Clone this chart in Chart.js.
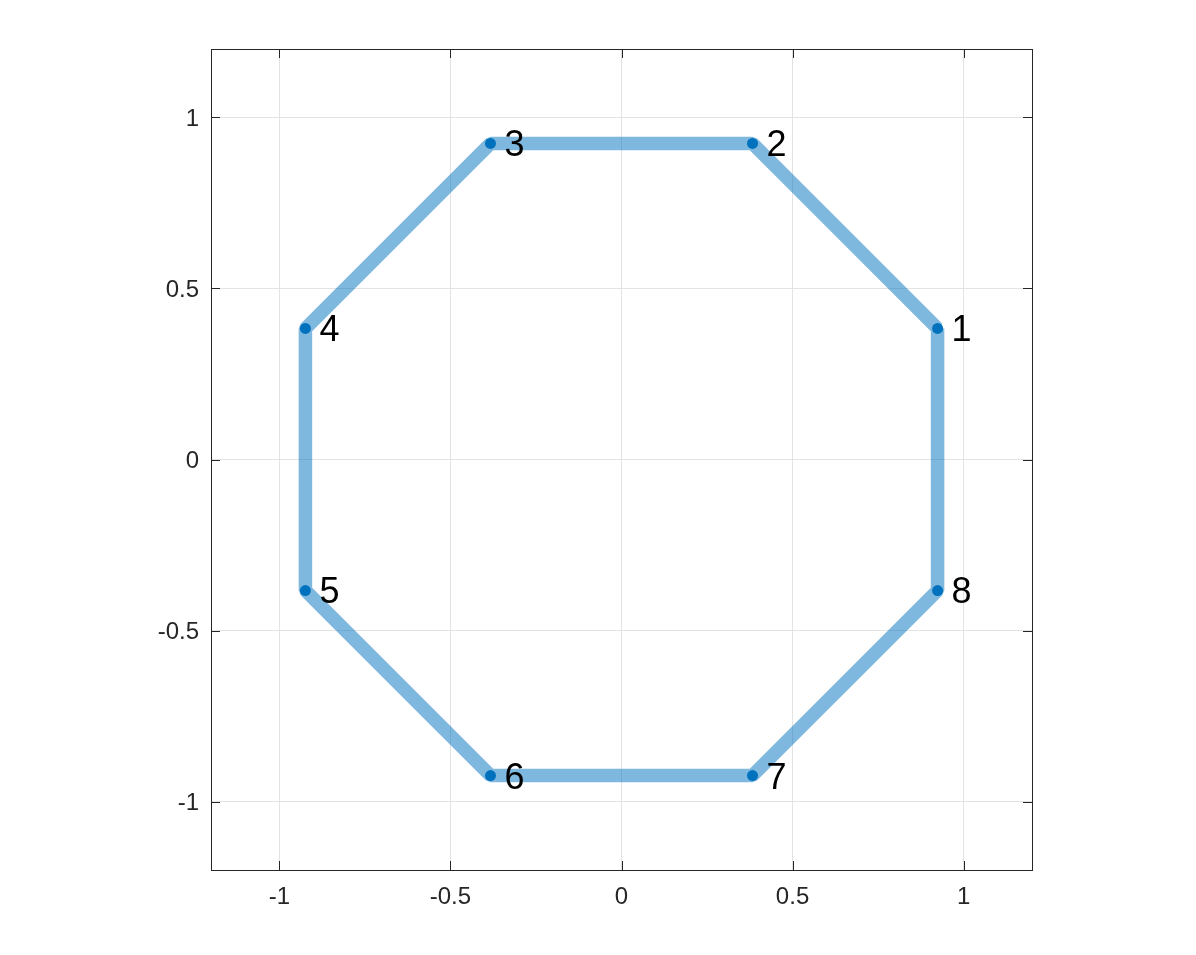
<!DOCTYPE html>
<html>
<head>
<meta charset="utf-8">
<script src="https://cdn.jsdelivr.net/npm/chart.js@4"></script>
<style>
  html, body { margin: 0; padding: 0; background: #ffffff; }
  canvas { display: block; }
</style>
</head>
<body>
<canvas id="c" width="1196" height="955"></canvas>
<script>
// ---- data ----
const pointLabels = ['1', '2', '3', '4', '5', '6', '7', '8'];
const xValues = [0.924, 0.383, -0.383, -0.924, -0.924, -0.383, 0.383, 0.924];
const yValues = [0.383, 0.924, 0.924, 0.383, -0.383, -0.924, -0.924, -0.383];
const xTickValues = [-1, -0.5, 0, 0.5, 1];
const yTickValues = [-1, -0.5, 0, 0.5, 1];
const axisMin = -1.2;
const axisMax = 1.2;

const pts = xValues.map((x, i) => ({ x: x, y: yValues[i] }));
const closedPts = pts.concat([pts[0]]);

const FONT = '"Liberation Sans", Arial, Helvetica, sans-serif';
const AXIS_COLOR = '#262626';

const frameAndTicks = {
  id: 'frameAndTicks',
  afterDatasetsDraw(chart) {
    const { ctx, chartArea: a, scales } = chart;
    ctx.save();
    // point labels
    ctx.fillStyle = '#000000';
    ctx.font = '36px ' + FONT;
    ctx.textAlign = 'left';
    ctx.textBaseline = 'middle';
    pointLabels.forEach((t, i) => {
      const px = scales.x.getPixelForValue(xValues[i]);
      const py = scales.y.getPixelForValue(yValues[i]);
      ctx.fillText(t, px + 14, py + 3);
    });
    // box
    ctx.strokeStyle = AXIS_COLOR;
    ctx.lineWidth = 1;
    ctx.strokeRect(Math.round(a.left) + 0.5, Math.round(a.top) + 0.5,
      Math.round(a.right - a.left), Math.round(a.bottom - a.top));
    // inward ticks
    const L = 9;
    ctx.beginPath();
    xTickValues.forEach(v => {
      const px = Math.round(scales.x.getPixelForValue(v)) + 0.5;
      ctx.moveTo(px, a.bottom); ctx.lineTo(px, a.bottom - L);
      ctx.moveTo(px, a.top); ctx.lineTo(px, a.top + L);
    });
    yTickValues.forEach(v => {
      const py = Math.round(scales.y.getPixelForValue(v)) + 0.5;
      ctx.moveTo(a.left, py); ctx.lineTo(a.left + L, py);
      ctx.moveTo(a.right, py); ctx.lineTo(a.right - L, py);
    });
    ctx.stroke();
    ctx.restore();
  }
};

new Chart(document.getElementById('c'), {
  type: 'scatter',
  data: {
    datasets: [
      {
        data: closedPts,
        showLine: true,
        borderColor: 'rgba(0,114,189,0.5)',
        borderWidth: 13.5,
        borderJoinStyle: 'bevel',
        borderCapStyle: 'butt',
        pointRadius: 0,
        pointHoverRadius: 0,
        fill: false
      },
      {
        data: pts,
        showLine: false,
        backgroundColor: '#0072BD',
        borderColor: '#0072BD',
        pointRadius: 5.5,
        pointBorderWidth: 0,
        pointHoverRadius: 5.5
      }
    ]
  },
  options: {
    responsive: false,
    animation: false,
    devicePixelRatio: 1,
    layout: { padding: { left: 0, right: 164, top: 49, bottom: 0 } },
    plugins: { legend: { display: false }, tooltip: { enabled: false } },
    scales: {
      x: {
        type: 'linear',
        min: axisMin,
        max: axisMax,
        afterBuildTicks: s => { s.ticks = xTickValues.map(v => ({ value: v })); },
        afterFit: s => { s.height = 85; },
        grid: { color: '#e3e3e3', drawTicks: false, lineWidth: 1 },
        border: { display: false },
        ticks: {
          padding: 13,
          color: AXIS_COLOR,
          font: { family: FONT, size: 24 },
          maxRotation: 0,
          callback: v => String(v)
        }
      },
      y: {
        type: 'linear',
        min: axisMin,
        max: axisMax,
        afterBuildTicks: s => { s.ticks = yTickValues.map(v => ({ value: v })); },
        afterFit: s => { s.width = 211; },
        grid: { color: '#e3e3e3', drawTicks: false, lineWidth: 1 },
        border: { display: false },
        ticks: {
          padding: 12,
          labelOffset: 2,
          color: AXIS_COLOR,
          font: { family: FONT, size: 24 },
          callback: v => String(v)
        }
      }
    }
  },
  plugins: [frameAndTicks]
});
</script>
</body>
</html>
